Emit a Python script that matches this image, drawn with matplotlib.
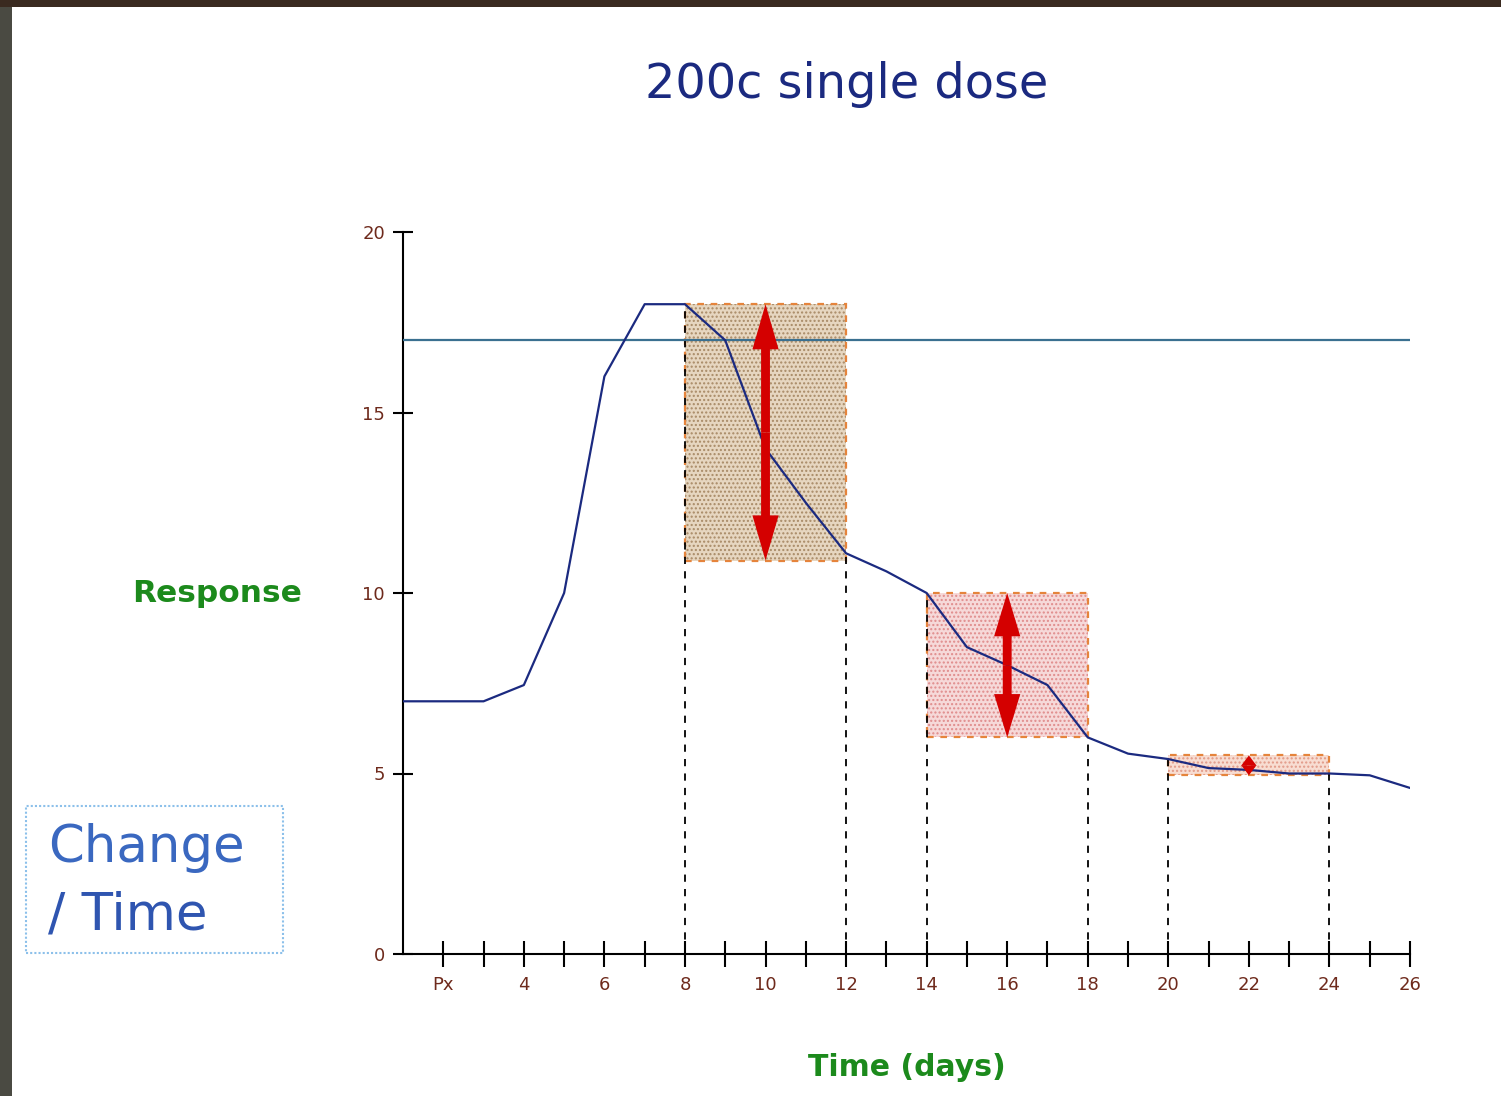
import matplotlib.pyplot as plt
from matplotlib.patches import Rectangle

# data
days = [1, 2, 3, 4, 5, 6, 7, 8, 9, 10, 11, 12, 13, 14, 15, 16, 17, 18, 19, 20, 21, 22, 23, 24, 25, 26]
response = [7, 7, 7, 7.45, 10, 16, 18, 18, 17, 14, 12.5, 11.1, 10.6, 10, 8.5, 8, 7.45, 6,
            5.55, 5.4, 5.15, 5.1, 5.0, 5.0, 4.95, 4.6]
threshold = 17

tick_days = list(range(2, 27))
tick_labels = ['Px' if d == 2 else (str(d) if d % 2 == 0 else '') for d in tick_days]

box_start = [8, 14, 20]
box_end = [12, 18, 24]
box_low = [10.9, 6, 4.95]
box_high = [18, 10, 5.5]
box_fill = ['#e6d6c0', '#f6d9d9', '#f8ddd2']
box_dots = ['#a88a66', '#e08c8c', '#e29a88']

drop_x = [8, 12, 14, 18, 20, 24]
drop_top = [18, 11, 10, 6, 5.5, 5.0]

brown = '#6e2a1c'
green = '#1c8a1c'
navy = '#1b2a80'

fig = plt.figure(figsize=(15.01, 10.96), dpi=100)
fig.patch.set_facecolor('white')
# dark frame bits from the screenshot
fig.patches.append(Rectangle((0, 0), 12 / 1501, 1, transform=fig.transFigure,
                             facecolor='#4a4a42', edgecolor='none', zorder=0))
fig.patches.append(Rectangle((0, 1 - 7 / 1096), 1, 7 / 1096, transform=fig.transFigure,
                             facecolor='#3a2a20', edgecolor='none', zorder=0))

ax = fig.add_axes([403 / 1501, 1 - 954 / 1096, (1410 - 403) / 1501, (954 - 232) / 1096])
ax.set_xlim(1, 26)
ax.set_ylim(0, 20)
ax.set_facecolor('none')

plt.rcParams['hatch.linewidth'] = 1.0
for i in range(len(box_start)):
    w = box_end[i] - box_start[i]
    h = box_high[i] - box_low[i]
    ax.add_patch(Rectangle((box_start[i], box_low[i]), w, h, facecolor=box_fill[i],
                           edgecolor=box_dots[i], hatch='....', lw=0, zorder=1))
    ax.add_patch(Rectangle((box_start[i], box_low[i]), w, h, facecolor='none',
                           edgecolor='#e5843c', lw=1.6, linestyle=(0, (3, 3)), zorder=2))

for x, top in zip(drop_x, drop_top):
    ax.plot([x, x], [0, top], color='black', lw=1.3, linestyle=(0, (4, 4)), zorder=3)

ax.axhline(threshold, color='#3a7090', lw=1.6, zorder=3)
ax.plot(days, response, color=navy, lw=1.6, zorder=4)

# double arrows: shaft width, head width (x units), head length (y units)
arrow_sizes = [(0.22, 0.65, 1.25), (0.22, 0.65, 1.2), (0.1, 0.38, 0.28)]
for i in range(len(box_start)):
    mid = (box_start[i] + box_end[i]) / 2
    centre = (box_high[i] + box_low[i]) / 2
    sw, hw, hl = arrow_sizes[i]
    for end in (box_high[i], box_low[i]):
        ax.arrow(mid, centre, 0, end - centre, width=sw, head_width=hw, head_length=hl,
                 length_includes_head=True, color='#d40000', lw=0, zorder=5)

ax.spines['top'].set_visible(False)
ax.spines['right'].set_visible(False)
ax.spines['left'].set_linewidth(1.5)
ax.spines['bottom'].set_linewidth(1.5)

ax.set_xticks(tick_days)
ax.set_xticklabels(tick_labels)
ax.set_yticks([0, 5, 10, 15, 20])
ax.tick_params(axis='x', direction='inout', length=19, width=1.5, labelsize=13,
               labelcolor=brown, pad=6)
ax.tick_params(axis='y', direction='inout', length=14, width=1.5, labelsize=13,
               labelcolor=brown, pad=6)

fig.text(847 / 1501, 1 - 85 / 1096, '200c single dose', color=navy, fontsize=34.5,
         ha='center', va='center')
fig.text(217 / 1501, 1 - 594 / 1096, 'Response', color=green, fontsize=22.5,
         fontweight='bold', ha='center', va='center')
fig.text(907 / 1501, 1 - 1068 / 1096, 'Time (days)', color=green, fontsize=21.5,
         fontweight='bold', ha='center', va='center')

fig.patches.append(Rectangle((26 / 1501, 1 - 953 / 1096), 257 / 1501, 147 / 1096,
                             transform=fig.transFigure, facecolor='white',
                             edgecolor='#8cc0ea', lw=1.5, linestyle=(0, (1, 1))))
fig.text(48 / 1501, 1 - 848 / 1096, 'Change', color='#3a68c0', fontsize=37,
         ha='left', va='center')
fig.text(48 / 1501, 1 - 916 / 1096, '/ Time', color='#2f55b0', fontsize=37,
         ha='left', va='center')

fig.savefig('out.png', dpi=100)
